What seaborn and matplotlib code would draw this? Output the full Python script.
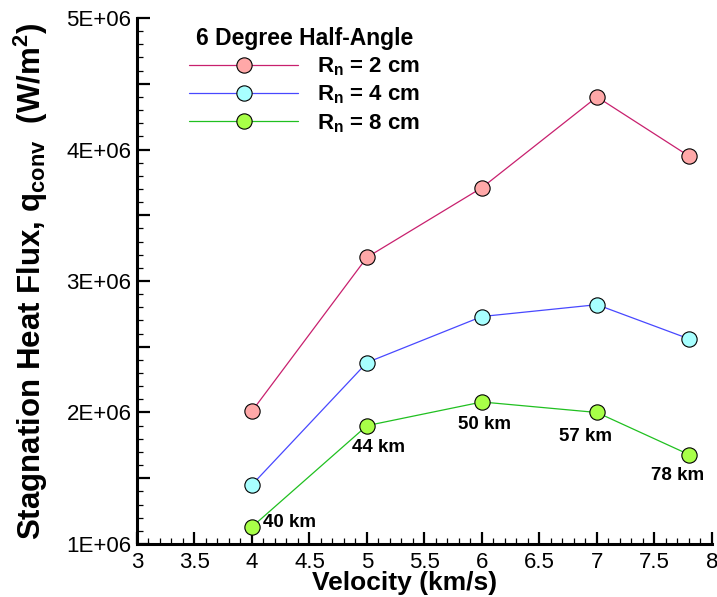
import matplotlib
matplotlib.use("Agg")
import matplotlib.pyplot as plt
from matplotlib.ticker import MultipleLocator, FuncFormatter
import seaborn as sns
import pandas as pd

# Flight velocity (km/s) and stagnation-point convective heat flux (W/m^2)
velocity = [4.0, 5.0, 6.0, 7.0, 7.8]
q_rn2 = [2.01e6, 3.18e6, 3.71e6, 4.40e6, 3.95e6]
q_rn4 = [1.45e6, 2.38e6, 2.73e6, 2.82e6, 2.56e6]
q_rn8 = [1.13e6, 1.90e6, 2.08e6, 2.00e6, 1.68e6]
altitude_labels = ["40 km", "44 km", "50 km", "57 km", "78 km"]
series_labels = [r"R$_\mathregular{n}$ = 2 cm", r"R$_\mathregular{n}$ = 4 cm", r"R$_\mathregular{n}$ = 8 cm"]

sns.set_theme(style="ticks")
plt.rcParams["font.family"] = ["Liberation Sans", "DejaVu Sans"]
plt.rcParams["mathtext.fontset"] = "custom"
plt.rcParams["mathtext.rm"] = "Liberation Sans:bold"
plt.rcParams["mathtext.bf"] = "Liberation Sans:bold"
plt.rcParams["mathtext.it"] = "Liberation Sans:bold"
for key in ("text.color", "axes.labelcolor", "axes.edgecolor", "xtick.color", "ytick.color"):
    plt.rcParams[key] = "black"

fig = plt.figure(figsize=(7.17, 5.97), dpi=100)
ax = fig.add_axes([0.191, 0.0888, 0.802, 0.881])

styles = [
    (q_rn2, "#c8206e", "#ffa8a8"),
    (q_rn4, "#4848ff", "#a8ffff"),
    (q_rn8, "#20c020", "#a8ff48"),
]
for (vals, lc, fc), lab in zip(styles, series_labels):
    df = pd.DataFrame({"v": velocity, "q": vals})
    sns.lineplot(data=df, x="v", y="q", ax=ax, color=lc, lw=0.9,
                 marker="o", markersize=11, markerfacecolor=fc,
                 markeredgecolor="black", markeredgewidth=0.8, label=lab)

# altitude annotations along the 8 cm curve (offsets in points)
offsets = [(27, 3), (8, -16), (2, -16), (-8, -17), (-8, -15)]
for v, q, txt, off in zip(velocity, q_rn8, altitude_labels, offsets):
    ax.annotate(txt, xy=(v, q), xytext=off, textcoords="offset points",
                ha="center", va="center", fontsize=13.5, fontweight="bold")

ax.set_xlim(3, 8)
ax.set_ylim(1e6, 5e6)
ax.xaxis.set_major_locator(MultipleLocator(0.5))
ax.xaxis.set_minor_locator(MultipleLocator(0.1))
ax.yaxis.set_major_locator(MultipleLocator(0.5e6))
ax.yaxis.set_minor_locator(MultipleLocator(0.1e6))
ax.xaxis.set_major_formatter(FuncFormatter(lambda v, p: f"{v:g}"))
ax.yaxis.set_major_formatter(FuncFormatter(
    lambda v, p: f"{int(round(v / 1e6))}E+06" if abs(v / 1e6 - round(v / 1e6)) < 1e-6 else ""))

ax.tick_params(which="major", direction="in", length=9, width=1.6, labelsize=16, pad=4)
ax.tick_params(axis="x", which="major", pad=6)
ax.tick_params(which="minor", direction="in", length=4.5, width=0.9)
for lbl in ax.get_xticklabels() + ax.get_yticklabels():
    lbl.set_fontweight("normal")

for side in ("top", "right"):
    ax.spines[side].set_visible(False)
for side in ("left", "bottom"):
    ax.spines[side].set_linewidth(2.2)

ax.set_xlabel("Velocity (km/s)", fontsize=19, fontweight="bold")
ax.set_ylabel(r"Stagnation Heat Flux, q$_{\mathregular{conv}}$  (W/m$^{\mathregular{2}}$)",
              fontsize=22.5, fontweight="bold")
ax.xaxis.set_label_coords(0.466, -0.052)
ax.yaxis.set_label_coords(-0.151, 0.5)

leg = ax.legend(title="6 Degree Half-Angle", loc="upper left", bbox_to_anchor=(0.068, 1.008),
                frameon=False, numpoints=1, handlelength=4.9, handletextpad=0.85,
                labelspacing=0.25, borderpad=0.1,
                prop={"size": 16, "weight": "bold"},
                title_fontproperties={"size": 16.5, "weight": "bold"})

fig.savefig("out.png", dpi=100)
